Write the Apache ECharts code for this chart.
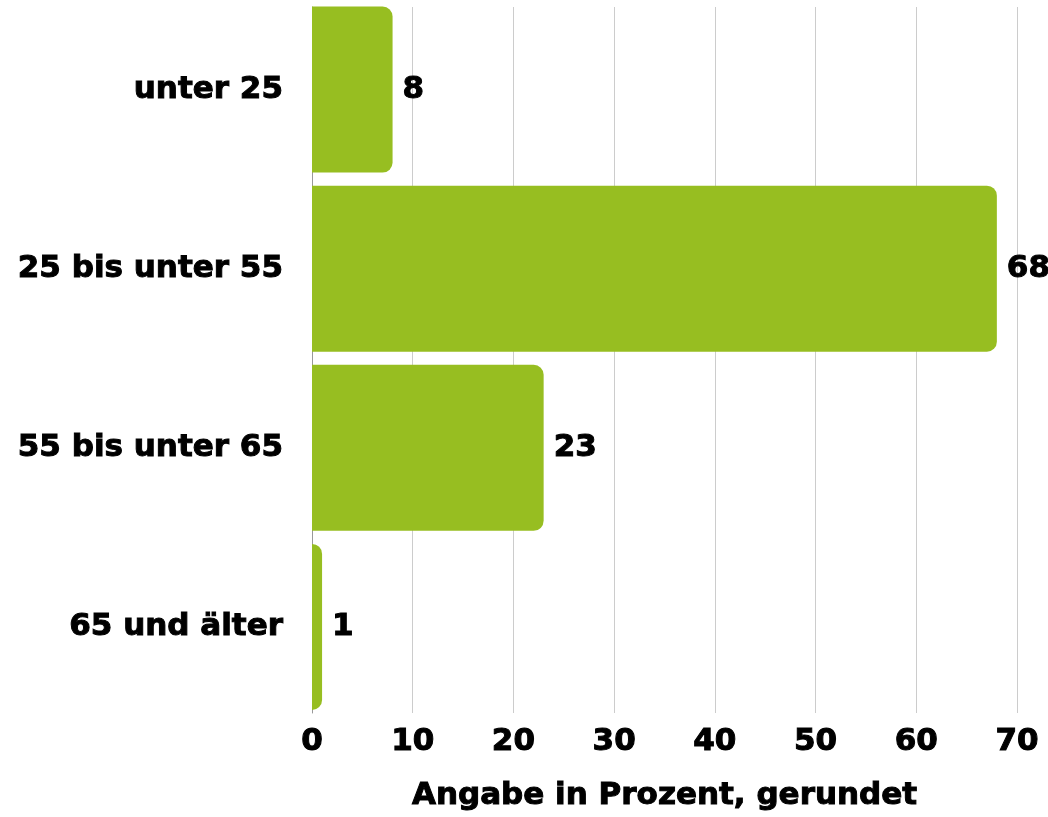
<!DOCTYPE html>
<html>
<head>
<meta charset="utf-8">
<script src="https://cdn.jsdelivr.net/npm/echarts@6/dist/echarts.min.js"></script>
<style>
  html, body { margin: 0; padding: 0; background: #fff; }
  #chart { width: 1048px; height: 817px; }
</style>
</head>
<body>
<div id="chart"></div>
<script>
// Altersgruppen und Anteile in Prozent (gerundet)
const categories = ['unter 25', '25 bis unter 55', '55 bis unter 65', '65 und älter'];
const shares = [8, 68, 23, 1];
const xTicks = { min: 0, max: 70, interval: 10 };
const axisTitle = 'Angabe in Prozent, gerundet';

const font = 'DejaVu Sans';
// heavy black lettering: bold face plus a thin outline in the same colour
const textStyle = {
  fontFamily: font, fontWeight: 'bold', fontSize: 31, color: '#000',
  textBorderColor: '#000', textBorderWidth: 1
};

const chart = echarts.init(document.getElementById('chart'), null, { renderer: 'canvas' });

chart.setOption({
  animation: false,
  backgroundColor: '#fff',
  grid: [
    // bars and labels
    { left: 312, right: 31, top: 0, height: 720, containLabel: false },
    // gridlines and the vertical axis line
    { left: 312, right: 31, top: 7, height: 706, containLabel: false }
  ],
  xAxis: [
    {
      gridIndex: 0,
      type: 'value',
      min: xTicks.min, max: xTicks.max, interval: xTicks.interval,
      axisLine: { show: false },
      axisTick: { show: false },
      splitLine: { show: false },
      axisLabel: Object.assign({ margin: 10 }, textStyle),
      name: axisTitle,
      nameLocation: 'middle',
      nameGap: 64,
      nameTextStyle: textStyle
    },
    {
      gridIndex: 1,
      type: 'value',
      min: xTicks.min, max: xTicks.max, interval: xTicks.interval,
      axisLine: { show: false },
      axisTick: { show: false },
      axisLabel: { show: false },
      splitLine: { show: true, lineStyle: { color: '#cccccc', width: 1 } }
    }
  ],
  yAxis: [
    {
      gridIndex: 0,
      type: 'category',
      data: categories,
      inverse: true,
      axisLine: { show: false },
      axisTick: { show: false },
      axisLabel: Object.assign({ margin: 29 }, textStyle)
    },
    {
      gridIndex: 1,
      type: 'category',
      data: categories,
      inverse: true,
      axisLine: { show: true, lineStyle: { color: '#999999', width: 1 } },
      axisTick: { show: false },
      axisLabel: { show: false }
    }
  ],
  series: [
    {
      type: 'bar',
      xAxisIndex: 0,
      yAxisIndex: 0,
      data: shares,
      barWidth: 166,
      itemStyle: { color: '#97be21', borderRadius: [0, 10, 10, 0] },
      label: Object.assign({ show: true, position: 'right', distance: 10 }, textStyle),
      z: 3
    }
  ]
});
</script>
</body>
</html>
